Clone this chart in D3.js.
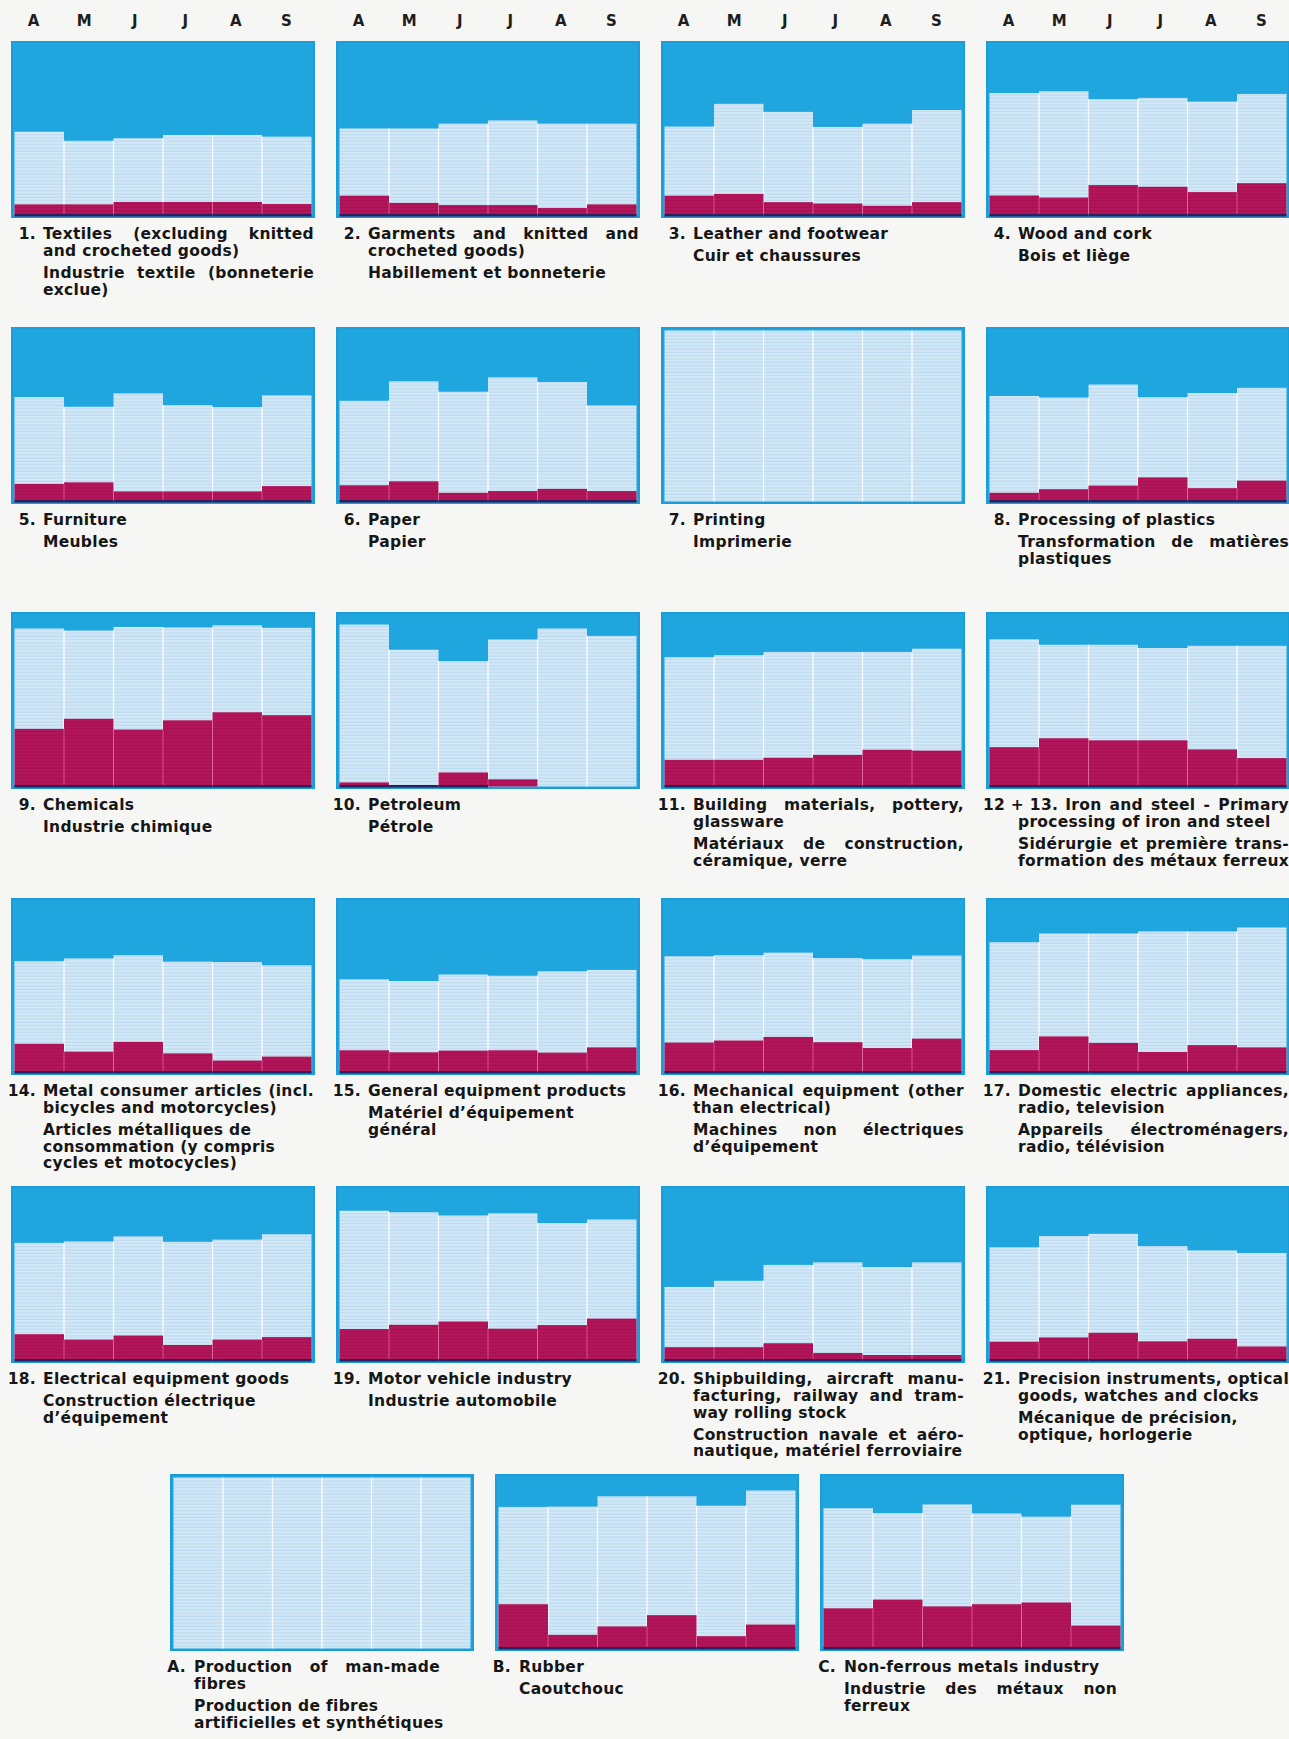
<!DOCTYPE html>
<html>
<head>
<meta charset="utf-8">
<script src="https://cdn.jsdelivr.net/npm/d3@7"></script>
<style>
  body { margin: 0; background: #f6f6f4; }
  svg { display: block; font-family: "DejaVu Sans", Lato, sans-serif; }
</style>
</head>
<body>
<div id="chart"></div>
<script>
// months shown above the first row of panels
const months = ["A", "M", "J", "J", "A", "S"];

// panel numbers, in reading order
const panelNumbers = ["1.", "2.", "3.", "4.", "5.", "6.", "7.", "8.", "9.", "10.", "11.", "12 + 13.",
  "14.", "15.", "16.", "17.", "18.", "19.", "20.", "21.", "A.", "B.", "C."];

// top of the light bars (% of panel height)
const upperSeries = [
  [49, 43.7, 45.2, 47.1, 47.1, 46.1],
  [50.9, 50.9, 53.7, 55.6, 53.7, 53.7],
  [52, 65.3, 60.6, 51.8, 53.7, 61.7],
  [71.6, 72.7, 68, 68.8, 66.6, 71.1],
  [61.1, 55.4, 63.2, 56.4, 55.2, 62.1],
  [58.9, 70.3, 64.2, 72.6, 69.9, 56.2],
  [100, 100, 100, 100, 100, 100],
  [61.7, 60.8, 68.4, 61, 63.4, 66.5],
  [92.4, 91.2, 93.3, 93, 94.3, 92.8],
  [94.7, 80, 73.3, 86, 92.4, 88.1],
  [75.6, 76.8, 78.7, 78.7, 78.7, 80.6],
  [86.1, 82.9, 82.9, 81, 82.3, 82.3],
  [65.1, 66.7, 68.6, 64.8, 64.6, 62.7],
  [54.5, 53.5, 57.3, 56.6, 59.2, 60],
  [68, 68.6, 70.1, 66.9, 66.3, 68.4],
  [76.2, 81.3, 81.3, 82.5, 82.5, 84.8],
  [68.8, 69.6, 72.6, 69.4, 70.7, 73.8],
  [87.6, 86.7, 84.8, 86.1, 80.4, 82.5],
  [43, 46.6, 55.9, 57.4, 54.6, 57.4],
  [66.2, 72.8, 74.1, 66.9, 64.4, 62.9],
  [100, 100, 100, 100, 100, 100],
  [82.8, 83, 89, 89, 83.5, 92.4],
  [82, 79.2, 84.3, 79, 77.1, 84.1]
];

// top of the crimson bars (% of panel height)
const lowerSeries = [
  [6.5, 6.5, 7.9, 7.9, 7.9, 6.7],
  [11.6, 7.4, 6.1, 6.1, 4.4, 6.5],
  [11.6, 12.6, 7.8, 7, 5.7, 7.8],
  [11.7, 10.5, 17.8, 16.8, 13.7, 18.9],
  [10.3, 11.2, 5.9, 5.9, 5.9, 9],
  [9.5, 11.8, 5.1, 6.1, 7.4, 6.1],
  [0, 0, 0, 0, 0, 0],
  [5.1, 7.2, 9.3, 14.1, 7.8, 12.2],
  [33.7, 39.6, 33.3, 38.7, 43.4, 41.7],
  [2.4, 0, 8.2, 4.2, 0, 0],
  [15.6, 15.6, 16.8, 18.5, 21.5, 21],
  [23, 28.2, 27, 27, 21.7, 16.6],
  [16.8, 12.2, 17.9, 11.2, 7, 9.3],
  [13, 11.8, 12.8, 13, 11.6, 14.7],
  [17.5, 18.7, 20.8, 17.7, 14.3, 19.8],
  [13.1, 21.1, 17.3, 12, 16, 14.7],
  [15.4, 12.2, 14.6, 9.1, 12.2, 13.7],
  [18.4, 20.9, 22.8, 18.6, 20.7, 24.5],
  [7.8, 7.8, 10.1, 4.4, 3.2, 3.2],
  [11, 13.5, 16.2, 11.2, 12.7, 8.2],
  [0, 0, 0, 0, 0, 0],
  [25.9, 8, 12.9, 19.5, 7.2, 14],
  [23.5, 28.6, 24.6, 25.9, 26.9, 13.4]
];

// English titles, one entry per line
const titlesEn = [
  ["Textiles (excluding knitted", "and crocheted goods)"],
  ["Garments and knitted and", "crocheted goods)"],
  ["Leather and footwear"],
  ["Wood and cork"],
  ["Furniture"],
  ["Paper"],
  ["Printing"],
  ["Processing of plastics"],
  ["Chemicals"],
  ["Petroleum"],
  ["Building materials, pottery,", "glassware"],
  ["Iron and steel - Primary", "processing of iron and steel"],
  ["Metal consumer articles (incl.", "bicycles and motorcycles)"],
  ["General equipment products"],
  ["Mechanical equipment (other", "than electrical)"],
  ["Domestic electric appliances,", "radio, television"],
  ["Electrical equipment goods"],
  ["Motor vehicle industry"],
  ["Shipbuilding, aircraft manu-", "facturing, railway and tram-", "way rolling stock"],
  ["Precision instruments, optical", "goods, watches and clocks"],
  ["Production of man-made", "fibres"],
  ["Rubber"],
  ["Non-ferrous metals industry"]
];

// French titles
const titlesFr = [
  ["Industrie textile (bonneterie", "exclue)"],
  ["Habillement et bonneterie"],
  ["Cuir et chaussures"],
  ["Bois et liège"],
  ["Meubles"],
  ["Papier"],
  ["Imprimerie"],
  ["Transformation de matières", "plastiques"],
  ["Industrie chimique"],
  ["Pétrole"],
  ["Matériaux de construction,", "céramique, verre"],
  ["Sidérurgie et première trans-", "formation des métaux ferreux"],
  ["Articles métalliques de", "consommation (y compris", "cycles et motocycles)"],
  ["Matériel d’équipement", "général"],
  ["Machines non électriques", "d’équipement"],
  ["Appareils électroménagers,", "radio, télévision"],
  ["Construction électrique", "d’équipement"],
  ["Industrie automobile"],
  ["Construction navale et aéro-", "nautique, matériel ferroviaire"],
  ["Mécanique de précision,", "optique, horlogerie"],
  ["Production de fibres", "artificielles et synthétiques"],
  ["Caoutchouc"],
  ["Industrie des métaux non", "ferreux"]
];

// French paragraphs set ragged instead of justified
const raggedFr = ["14.", "15.", "18.", "21.", "A."];

const width = 1289, height = 1739;
const panelW = 302, panelH = 175;
const colX = [12, 337, 662, 987];
const lastRowX = [171, 496, 821];
const rowY = [42, 328, 613, 899, 1187, 1475];

const skyBlue = "#1fa6de";
const crimson = "#b3155b";
const labelSize = 15.5;
const labelSpacing = 0.3;

function draw() {
  d3.select("#chart").selectAll("*").remove();

  const svg = d3.select("#chart")
    .append("svg")
    .attr("width", width)
    .attr("height", height);

  // striped fills
  const defs = svg.append("defs");
  const light = defs.append("pattern")
    .attr("id", "lightStripe")
    .attr("patternUnits", "userSpaceOnUse")
    .attr("width", 8).attr("height", 3.3);
  light.append("rect").attr("width", 8).attr("height", 3.3).attr("fill", "#d2e8f7");
  light.append("rect").attr("y", 2.2).attr("width", 8).attr("height", 1).attr("fill", "#b9d8ef");

  const red = defs.append("pattern")
    .attr("id", "redStripe")
    .attr("patternUnits", "userSpaceOnUse")
    .attr("width", 8).attr("height", 3.3);
  red.append("rect").attr("width", 8).attr("height", 3.3).attr("fill", crimson);
  red.append("rect").attr("y", 2.2).attr("width", 8).attr("height", 1).attr("fill", "#a6104f");

  // helper text for measuring words
  const probe = svg.append("text")
    .attr("font-size", labelSize).attr("font-weight", 700)
    .attr("letter-spacing", labelSpacing)
    .attr("visibility", "hidden");
  const measure = s => { probe.text(s); return probe.node().getComputedTextLength(); };

  panelNumbers.forEach((num, i) => {
    const last = i >= 20;
    const px = last ? lastRowX[i - 20] : colX[i % 4];
    const py = last ? rowY[5] : rowY[Math.floor(i / 4)];
    const g = svg.append("g");

    const x = d3.scaleBand()
      .domain(d3.range(months.length))
      .range([px + 2.5, px + panelW - 2.5]);
    const y = d3.scaleLinear()
      .domain([0, 100])
      .range([py + panelH - 1.5, py + 2.5]);

    // panel background
    g.append("rect")
      .attr("x", px).attr("y", py)
      .attr("width", panelW).attr("height", panelH)
      .attr("fill", skyBlue)
      .attr("stroke", "#1c9dd8").attr("stroke-width", 2);

    const up = upperSeries[i];
    const low = lowerSeries[i];

    // light bars
    g.selectAll(".up").data(up).enter().append("rect")
      .attr("x", (d, k) => x(k))
      .attr("y", d => y(d))
      .attr("width", x.bandwidth())
      .attr("height", d => y(0) - y(d))
      .attr("fill", "url(#lightStripe)");

    // white separators between bars
    g.selectAll(".sep").data(d3.range(months.length - 1)).enter().append("line")
      .attr("x1", k => x(k + 1)).attr("x2", k => x(k + 1))
      .attr("y1", k => y(Math.min(up[k], up[k + 1])))
      .attr("y2", y(0))
      .attr("stroke", "#ffffff").attr("stroke-width", 1.3).attr("opacity", 0.9);

    // crimson bars
    g.selectAll(".low").data(low).enter().append("rect")
      .attr("x", (d, k) => x(k))
      .attr("y", d => y(d))
      .attr("width", x.bandwidth())
      .attr("height", d => y(0) - y(d))
      .attr("fill", "url(#redStripe)");

    g.selectAll(".lowsep").data(d3.range(months.length - 1)).enter().append("line")
      .filter(k => Math.min(low[k], low[k + 1]) > 0)
      .attr("x1", k => x(k + 1)).attr("x2", k => x(k + 1))
      .attr("y1", k => y(Math.min(low[k], low[k + 1])))
      .attr("y2", y(0))
      .attr("stroke", "#f07aa5").attr("stroke-width", 1).attr("opacity", 0.6);

    // dark base under the crimson bars
    g.selectAll(".base").data(low).enter().append("rect")
      .filter(d => d > 0)
      .attr("x", (d, k) => x(k))
      .attr("y", y(0) - 1.5)
      .attr("width", x.bandwidth())
      .attr("height", 2.5)
      .attr("fill", "#2b1f5e");

    // month letters above the first row (printed slightly left of bar centres)
    if (i < 4) {
      const mx = d3.scalePoint()
        .domain(d3.range(months.length))
        .range([px + 21.5, px + 274.5]);
      g.selectAll(".month").data(months).enter().append("text")
        .attr("x", (d, k) => mx(k))
        .attr("y", 26)
        .attr("text-anchor", "middle")
        .attr("font-size", 15).attr("font-weight", 700)
        .attr("fill", "#1e1e1e")
        .text(d => d);
    }

    // titles
    const tx = last ? px + 23 : px + 31;
    const tRight = last ? (num === "A." ? px + 269 : px + panelW - 6) : px + panelW;
    const label = g.append("g")
      .attr("font-size", labelSize).attr("font-weight", 700)
      .attr("letter-spacing", labelSpacing)
      .attr("fill", "#161616");

    let yb = py + panelH + 22;
    let firstX = tx;
    if (num.length > 4) {
      label.append("text").attr("x", px - 4).attr("y", yb).text(num);
      firstX = px - 4 + measure(num) + 7;
    } else {
      label.append("text").attr("x", last ? px + 15 : px + 24).attr("y", yb)
        .attr("text-anchor", "end").text(num);
    }

    const drawLine = (str, x0, justify) => {
      if (!justify) {
        label.append("text").attr("x", x0).attr("y", yb).text(str);
        return;
      }
      const words = str.split(" ");
      const ws = words.map(measure);
      const gap = Math.max(3, (tRight - x0 - d3.sum(ws)) / (words.length - 1));
      let cx = x0;
      words.forEach((w, k) => {
        label.append("text").attr("x", cx).attr("y", yb).text(w);
        cx += ws[k] + gap;
      });
    };

    titlesEn[i].forEach((line, k, arr) => {
      drawLine(line, k === 0 ? firstX : tx, k < arr.length - 1);
      yb += 16.8;
    });
    yb += 5.2;
    const ragged = raggedFr.includes(num);
    titlesFr[i].forEach((line, k, arr) => {
      drawLine(line, tx, !ragged && k < arr.length - 1);
      yb += 16.8;
    });
  });

  probe.remove();
}

document.fonts.ready.then(draw);
</script>
</body>
</html>
